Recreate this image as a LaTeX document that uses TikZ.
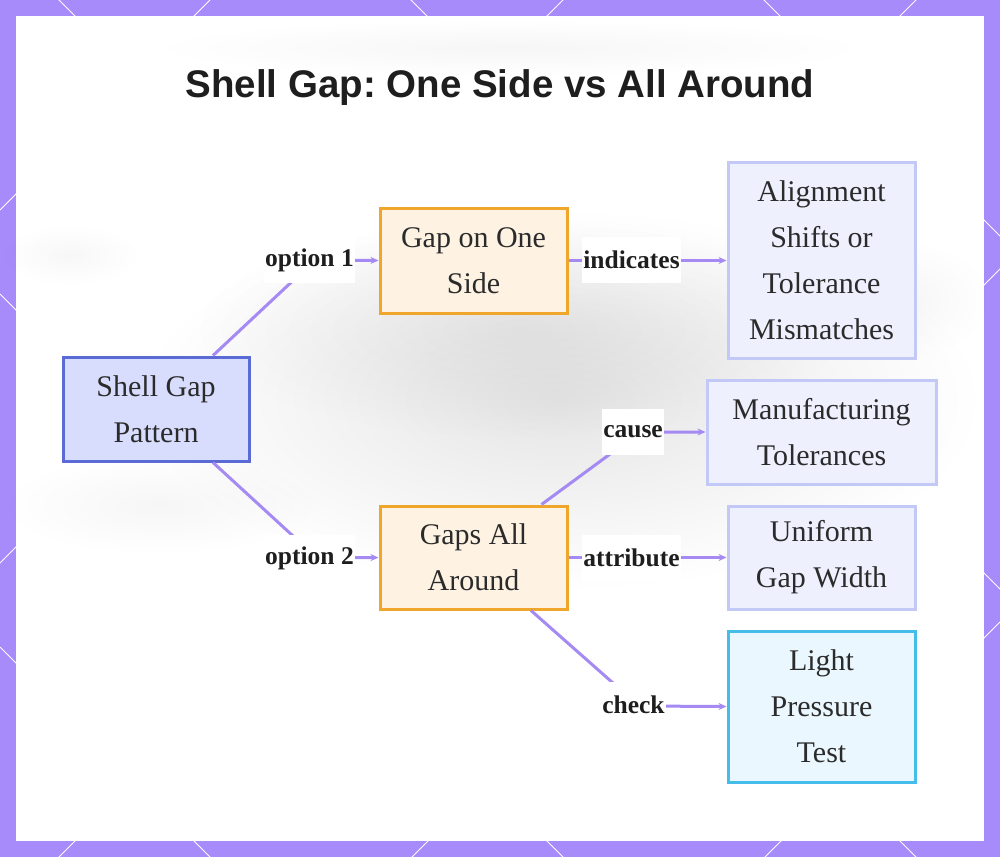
\documentclass[tikz,border=0pt]{standalone}
\usepackage{fontspec}
\setmainfont{Liberation Serif}
\newfontfamily\titlefont{Liberation Sans}
\usetikzlibrary{arrows.meta,fadings}
\frenchspacing
\definecolor{bordr}{HTML}{A78BFA}
\definecolor{edgec}{HTML}{A48AF2}
\definecolor{txt}{HTML}{2B2B2B}
\definecolor{ttl}{HTML}{1E1E1E}
\definecolor{mainfill}{HTML}{D8DCFD}
\definecolor{maindraw}{HTML}{5B6BD5}
\definecolor{orfill}{HTML}{FEF3E3}
\definecolor{ordraw}{HTML}{F0A52B}
\definecolor{lavfill}{HTML}{EEF0FE}
\definecolor{lavdraw}{HTML}{C3C9F7}
\definecolor{bluefill}{HTML}{EBF7FE}
\definecolor{bluedraw}{HTML}{45BDEA}
\tikzfading[name=fuzzy, inner color=transparent!0, outer color=transparent!100]
\tikzset{
  box/.style={draw, line width=3pt, align=center, inner sep=0pt, text=txt,
    font=\fontsize{30}{46}\selectfont},
  mainbox/.style={box, fill=mainfill, draw=maindraw},
  orbox/.style={box, fill=orfill, draw=ordraw},
  lavbox/.style={box, fill=lavfill, draw=lavdraw},
  bluebox/.style={box, fill=bluefill, draw=bluedraw},
  lab/.style={fill=white, text=ttl, inner xsep=1pt, inner ysep=0pt, minimum height=46pt,
    font=\bfseries\fontsize{25.5}{25.5}\selectfont},
  edge/.style={draw=edgec, line width=3pt, -{Stealth[length=8pt,width=7pt]}},
  blob/.style={fill=black, path fading=fuzzy}
}
\begin{document}
\begin{tikzpicture}[x=1pt,y=-1pt]
\useasboundingbox (0,0) rectangle (1000,857);
% border with diamond lattice
\fill[bordr] (0,0) rectangle (1000,857);
\begin{scope}
  \clip (0,0) rectangle (1000,857);
  \foreach \c in {-1117,-764,-411,-59,294,647,1000}
    \draw[white, line width=1pt] (0,\c) -- (1000,{\c+1000});
  \foreach \d in {210,563,916,1269,1622}
    \draw[white, line width=1pt] (0,\d) -- (1000,{\d-1000});
\end{scope}
% card
\fill[white] (16,16) rectangle (984,841);
% blurred background hints
\fill[blob, opacity=0.10] (560,400) ellipse [x radius=420, y radius=190];
\fill[blob, opacity=0.06] (520,330) ellipse [x radius=330, y radius=110];
\fill[blob, opacity=0.035] (160,505) ellipse [x radius=160, y radius=50];
\fill[blob, opacity=0.03] (70,255) ellipse [x radius=70, y radius=30];
\fill[blob, opacity=0.035] (510,48) ellipse [x radius=360, y radius=28];
\fill[blob, opacity=0.04] (900,300) ellipse [x radius=90, y radius=60];
% title
\node[anchor=base, text=ttl, font=\titlefont\bfseries\fontsize{38.5}{40}\selectfont]
  (title) at (500,97) {Shell Gap: One Side vs All Around};
% nodes
\node[mainbox, minimum width=186pt, minimum height=104pt] (pat) at (156,409) {Shell Gap\\Pattern};
\node[orbox, minimum width=187pt, minimum height=105pt] (gap1) at (473.5,260.5) {Gap on One\\Side};
\node[orbox, minimum width=187pt, minimum height=103pt] (gap2) at (473.5,557.5) {Gaps All\\Around};
\node[lavbox, minimum width=187pt, minimum height=196pt] (align) at (821.5,260) {Alignment\\Shifts or\\Tolerance\\Mismatches};
\node[lavbox, minimum width=229pt, minimum height=104pt] (manu) at (821.5,432) {Manufacturing\\Tolerances};
\node[lavbox, minimum width=187pt, minimum height=103pt] (unif) at (821.5,557.5) {Uniform\\Gap Width};
\node[bluebox, minimum width=187pt, minimum height=151pt] (light) at (821.5,706.5) {Light\\Pressure\\Test};
% bends
\coordinate (c1) at (315,260);
\coordinate (c2) at (317,558);
\coordinate (c4) at (640,432);
\coordinate (c6) at (639,706);
% connectors
\draw[edge] ([xshift=57pt]pat.north) -- (c1) -- (gap1.west);
\draw[edge] ([xshift=57pt]pat.south) -- (c2) -- (gap2.west);
\draw[edge] (gap1.east) -- (align.west |- gap1.east);
\draw[edge] ([xshift=68pt]gap2.north) -- (c4) -- (manu.west);
\draw[edge] (gap2.east) -- (unif.west);
\draw[edge] ([xshift=57.5pt]gap2.south) -- (c6) -- (light.west);
% labels
\node[lab] (l1) at (309.5,260) {option 1};
\node[lab] (l2) at (309.5,558) {option 2};
\node[lab] (l3) at (631.5,260) {indicates};
\node[lab] (l4) at (633,432) {cause};
\node[lab] (l5) at (631.5,558) {attribute};
\node[lab] (l6) at (633.5,705) {check};
\end{tikzpicture}
\end{document}
